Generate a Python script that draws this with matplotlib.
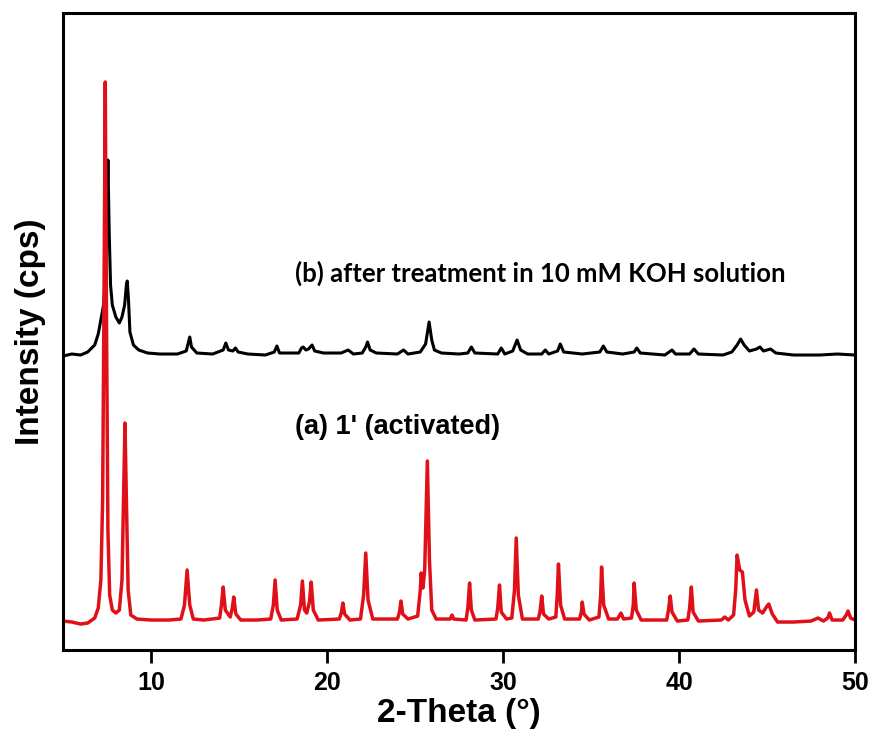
import matplotlib
matplotlib.use('Agg')
import matplotlib.pyplot as plt

# 2-theta (deg) / intensity (arb. cps)
# (b) after treatment in KOH -- black trace
theta_b = [5.0, 5.5, 6.0, 6.4, 6.8, 7.0, 7.2, 7.3, 7.4, 7.48, 7.55, 7.62, 7.7, 7.8, 8.0, 8.2, 8.35, 8.5,
           8.6, 8.65, 8.72, 8.8, 9.0, 9.3, 9.8, 10.5, 11.5, 12.0, 12.1, 12.2, 12.3, 12.6, 13.5, 14.1,
           14.25, 14.4, 14.65, 14.8, 14.95, 15.5, 16.5, 17.0, 17.15, 17.3, 18.4, 18.55, 18.65, 18.8,
           18.95, 19.15, 19.3, 19.8, 20.8, 21.2, 21.5, 22.0, 22.2, 22.3, 22.45, 22.8, 24.0, 24.35,
           24.6, 25.3, 25.6, 25.8, 25.95, 26.1, 26.5, 27.5, 28.0, 28.2, 28.4, 29.7, 29.9, 30.1, 30.55,
           30.8, 31.0, 31.4, 32.2, 32.4, 32.6, 33.1, 33.25, 33.45, 34.5, 35.5, 35.7, 35.9, 36.8, 37.45,
           37.6, 37.8, 39.2, 39.6, 39.8, 40.6, 40.85, 41.1, 42.5, 43.0, 43.3, 43.5, 43.7, 44.0, 44.4,
           44.6, 44.8, 45.0, 45.2, 45.5, 46.5, 48.0, 49.0, 50.0]
int_b = [294, 296, 295, 298, 305, 316, 335, 345, 370, 420, 490, 420, 365, 345, 333, 327, 333, 345,
         365, 369, 350, 318, 305, 300, 297, 296, 296, 299, 306, 313, 303, 297, 296, 300,
         307, 300, 299, 302, 298, 296, 295, 298, 304, 297, 297, 302, 303, 300,
         301, 305, 299, 297, 297, 300, 296, 297, 303, 308, 300, 297, 296, 300,
         296, 298, 306, 328, 310, 300, 297, 296, 297, 303, 297, 296, 302, 296, 299,
         310, 300, 296, 296, 300, 296, 299, 306, 298, 296, 298, 304, 298, 296, 298,
         302, 297, 295, 300, 296, 296, 301, 296, 295, 298, 305, 311, 305, 299, 301,
         303, 299, 300, 301, 297, 295, 295, 296, 295]

# (a) 1' (activated) -- red trace
theta_a = [5.0, 5.5, 6.0, 6.4, 6.8, 7.0, 7.15, 7.25, 7.32, 7.4, 7.47, 7.55, 7.65, 7.8, 8.0, 8.2, 8.35,
           8.45, 8.52, 8.6, 8.7, 8.85, 9.2, 10.0, 11.0, 11.7, 11.9, 12.05, 12.2, 12.4, 13.0, 13.9,
           14.0, 14.1, 14.22, 14.5, 14.62, 14.7, 14.82, 15.1, 16.0, 16.8, 16.95, 17.05, 17.17, 17.4,
           18.3, 18.5, 18.6, 18.72, 18.85, 19.0, 19.1, 19.22, 19.5, 20.7, 20.82, 20.9, 21.0, 21.3,
           21.9, 22.08, 22.2, 22.33, 22.6, 24.0, 24.12, 24.2, 24.3, 24.6, 25.15, 25.3, 25.35, 25.45,
           25.55, 25.7, 25.82, 25.95, 26.2, 27.0, 27.1, 27.2, 27.9, 28.0, 28.1, 28.2, 28.4, 29.6,
           29.7, 29.8, 29.9, 30.2, 30.5, 30.65, 30.75, 30.87, 31.1, 32.0, 32.1, 32.2, 32.3, 32.6,
           33.0, 33.08, 33.15, 33.27, 33.5, 34.35, 34.45, 34.5, 34.6, 34.9, 35.45, 35.55, 35.6,
           35.72, 36.0, 36.5, 36.7, 36.85, 37.3, 37.4, 37.45, 37.57, 37.85, 39.3, 39.4, 39.5, 39.6,
           39.9, 40.5, 40.6, 40.7, 40.8, 41.1, 42.4, 42.6, 42.8, 43.1, 43.22, 43.3, 43.45, 43.6,
           43.75, 44.0, 44.25, 44.4, 44.52, 44.75, 45.0, 45.1, 45.3, 45.6, 46.5, 47.5, 47.9, 48.2,
           48.45, 48.55, 48.7, 49.3, 49.5, 49.6, 49.75, 50.0]
int_a = [29, 28, 26, 27, 32, 42, 70, 150, 330, 568, 330, 120, 55, 40, 37, 40, 70,
         160, 227, 150, 60, 35, 31, 30, 30, 31, 45, 80, 45, 31, 30, 32,
         45, 63, 40, 33, 42, 53, 36, 30, 30, 31, 45, 70, 40, 30,
         31, 45, 69, 40, 37, 48, 68, 40, 30, 31, 38, 47, 36, 30,
         31, 55, 97, 50, 31, 31, 38, 49, 36, 31, 34, 60, 77, 62,
         80, 189, 90, 40, 31, 31, 35, 31, 30, 42, 67, 40, 30, 31,
         42, 65, 38, 31, 32, 60, 112, 55, 31, 31, 38, 54, 36, 31,
         33, 55, 86, 45, 31, 31, 38, 48, 36, 30, 33, 55, 83,
         45, 31, 31, 37, 31, 32, 45, 67, 40, 30, 30, 40, 54, 38,
         29, 30, 42, 63, 38, 29, 30, 33, 30, 35, 60, 95, 80, 78,
         50, 34, 38, 60, 40, 37, 44, 46, 36, 28, 28, 29, 32, 29,
         32, 37, 30, 30, 35, 39, 32, 30]

x_ticks = [10, 20, 30, 40, 50]

fig = plt.figure(figsize=(8.73, 7.38), dpi=100)
ax = fig.add_axes([0.0722, 0.1192, 0.9072, 0.8632])

ax.plot(theta_b, int_b, color='black', lw=2.2)
ax.plot(theta_a, int_a, color='#e01019', lw=2.5)

ax.set_xlim(5, 50)
ax.set_ylim(0, 637)
ax.set_xticks(x_ticks)
ax.set_yticks([])
ax.tick_params(axis='x', direction='out', length=9, width=2, pad=6)
for lbl in ax.get_xticklabels():
    lbl.set_fontfamily('Liberation Sans')
    lbl.set_fontweight('bold')
    lbl.set_fontsize(18)
for sp in ax.spines.values():
    sp.set_linewidth(2.2)

ax.set_xlabel('2-Theta (°)', fontfamily='Liberation Sans', fontweight='bold', fontsize=24, labelpad=2)
ax.set_ylabel('Intensity (cps)', fontfamily='Liberation Sans', fontweight='bold', fontsize=24, labelpad=12)

ax.text(18.2, 377, '(b) after treatment in 10 mM KOH solution', fontfamily='Lato',
        fontweight='bold', fontsize=18.5, va='center', ha='left')
ax.text(18.2, 223, "(a) 1' (activated)", fontfamily='Liberation Sans',
        fontweight='bold', fontsize=19.5, va='center', ha='left')

fig.savefig('out.png', dpi=100)
